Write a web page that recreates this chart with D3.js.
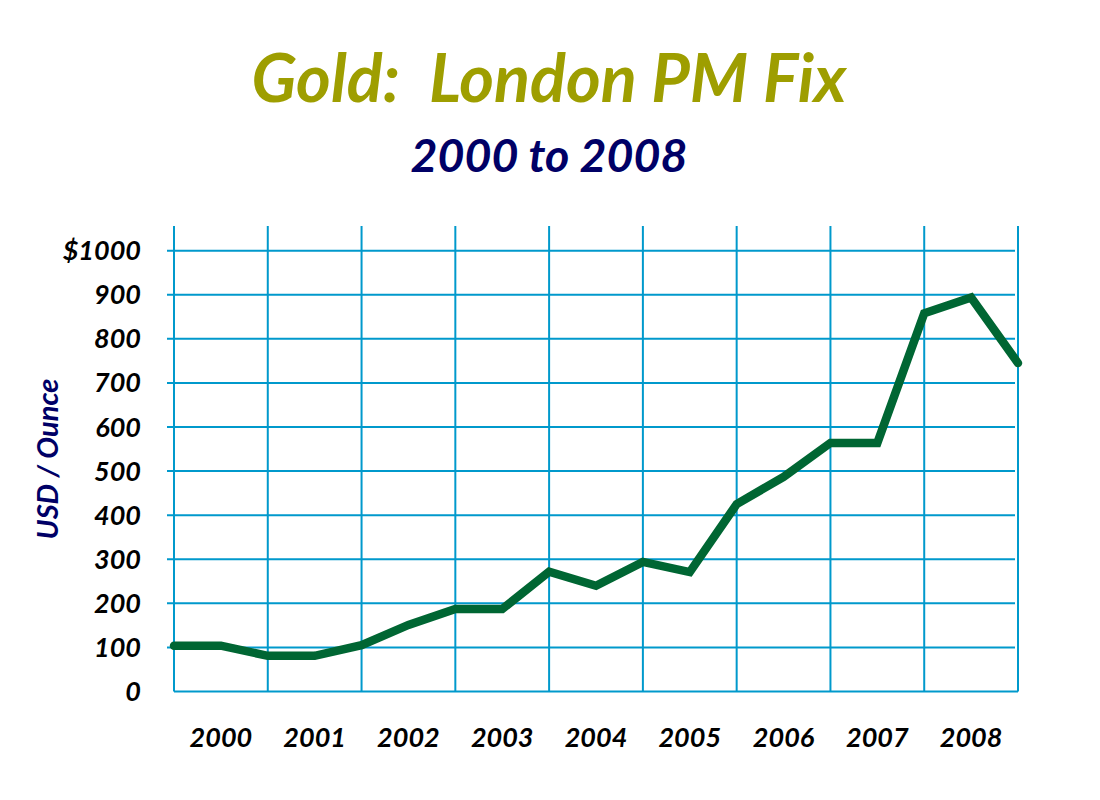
<!DOCTYPE html>
<html>
<head>
<meta charset="utf-8">
<script src="https://cdn.jsdelivr.net/npm/d3@7"></script>
<style>
  body { margin: 0; background: #fff; }
  text { font-family: Lato, "Open Sans", sans-serif; font-weight: bold; font-style: italic; }
</style>
</head>
<body>
<div id="container"></div>
<script>
// half-year points, London PM fix in USD per ounce
var periods = [2000, 2000.5, 2001, 2001.5, 2002, 2002.5, 2003, 2003.5, 2004, 2004.5,
               2005, 2005.5, 2006, 2006.5, 2007, 2007.5, 2008, 2008.5, 2009]
var prices = [104, 104, 81, 81, 105, 151, 187, 187, 272, 240,
              294, 271, 425, 487, 564, 564, 858, 894, 745]
var years = [2000, 2001, 2002, 2003, 2004, 2005, 2006, 2007, 2008]
var yTicks = [0, 100, 200, 300, 400, 500, 600, 700, 800, 900, 1000]

var WIDTH = 1100
var HEIGHT = 800
var gridColor = '#0099cc'

var svg = d3.select('div#container').append('svg')
  .attr('width', WIDTH)
  .attr('height', HEIGHT)

var x = d3.scaleLinear().domain([2000, 2009]).range([174, 1018])
var y = d3.scaleLinear().domain([0, 1000]).range([691.5, 250.7])

// titles
svg.append('text')
  .attr('x', 549).attr('y', 102)
  .attr('text-anchor', 'middle')
  .attr('font-size', 66.5)
  .attr('fill', '#9e9e00')
  .attr('xml:space', 'preserve')
  .text('Gold:  London PM Fix')

svg.append('text')
  .attr('x', 549).attr('y', 172)
  .attr('text-anchor', 'middle')
  .attr('font-size', 46.5)
  .attr('fill', '#000066')
  .text('2000 to 2008')

// horizontal grid
svg.append('g').selectAll('line')
  .data(yTicks.slice(1))
  .enter().append('line')
  .attr('x1', 167).attr('x2', 1015)
  .attr('y1', function (d) { return y(d) })
  .attr('y2', function (d) { return y(d) })
  .attr('stroke', gridColor).attr('stroke-width', 2)

// vertical grid
svg.append('g').selectAll('line')
  .data(years.concat([2009]))
  .enter().append('line')
  .attr('x1', function (d) { return x(d) })
  .attr('x2', function (d) { return x(d) })
  .attr('y1', 226).attr('y2', y(0))
  .attr('stroke', gridColor).attr('stroke-width', 2)

// baseline
svg.append('line')
  .attr('x1', x(2000)).attr('x2', x(2009))
  .attr('y1', y(0)).attr('y2', y(0))
  .attr('stroke', gridColor).attr('stroke-width', 2)

// y tick labels
svg.append('g').selectAll('text')
  .data(yTicks)
  .enter().append('text')
  .attr('x', 141)
  .attr('y', function (d) { return y(d) + 9.5 })
  .attr('text-anchor', 'end')
  .attr('font-size', 27)
  .attr('fill', '#000')
  .text(function (d) { return d === 1000 ? '$1000' : d })

// x labels
svg.append('g').selectAll('text')
  .data(years)
  .enter().append('text')
  .attr('x', function (d) { return x(d + 0.5) })
  .attr('y', 747)
  .attr('text-anchor', 'middle')
  .attr('font-size', 27)
  .attr('fill', '#000')
  .text(function (d) { return d })

// y axis title
svg.append('text')
  .attr('transform', 'translate(58,459) rotate(-90)')
  .attr('text-anchor', 'middle')
  .attr('font-size', 29)
  .attr('fill', '#000066')
  .text('USD / Ounce')

// price line
var line = d3.line()
  .x(function (d, i) { return x(periods[i]) })
  .y(function (d) { return y(d) })

svg.append('path')
  .datum(prices)
  .attr('d', line)
  .attr('fill', 'none')
  .attr('stroke', '#006633')
  .attr('stroke-width', 8.5)
  .attr('stroke-linecap', 'round')
  .attr('stroke-linejoin', 'miter')
</script>
</body>
</html>
